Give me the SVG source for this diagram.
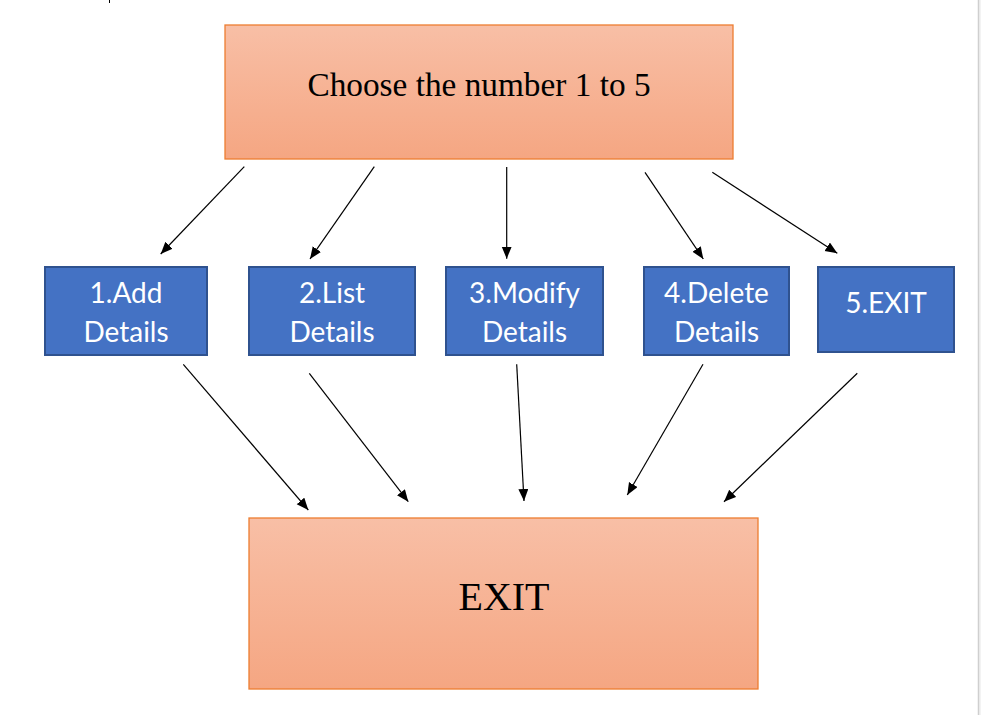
<svg xmlns="http://www.w3.org/2000/svg" width="981" height="715" viewBox="0 0 981 715">
<style>
.orange{stroke:#ED7D31;stroke-width:1.3;fill:url(#og)}
.blue{fill:#4472C4;stroke:#2F528F;stroke-width:2}
.serif{font-family:"Liberation Serif","Times New Roman",serif;fill:#000;text-anchor:middle}
.sans{font-family:Lato,"Open Sans",sans-serif;fill:#fff;font-size:28px;text-anchor:middle}
.conn line{stroke:#000;stroke-width:1.2;marker-end:url(#ah)}
</style>
<defs>
<linearGradient id="og" x1="0" y1="0" x2="0" y2="1">
<stop offset="0" stop-color="#F8BFA6"/>
<stop offset="1" stop-color="#F5A682"/>
</linearGradient>
<marker id="ah" markerUnits="userSpaceOnUse" markerWidth="13" markerHeight="11" refX="12" refY="5" orient="auto">
<path d="M0,0 L12,5 L0,10 z" fill="#000"/>
</marker>
</defs>
<rect x="0" y="0" width="981" height="715" fill="#fff"/>
<rect x="979" y="0" width="2" height="715" fill="#f3f3f3"/>
<line x1="978.5" y1="0" x2="978.5" y2="715" stroke="#cfcfcf" stroke-width="1.5"/>
<line x1="109.5" y1="0" x2="109.5" y2="3" stroke="#000" stroke-width="1"/>

<g id="start">
<rect class="orange" x="225" y="25" width="508" height="134"/>
<text class="serif" x="479" y="96" font-size="33.3">Choose the number 1 to 5</text>
</g>

<g id="add">
<rect class="blue" x="45" y="267" width="162" height="88"/>
<text class="sans" x="126" y="303">1.Add</text>
<text class="sans" x="126" y="342">Details</text>
</g>
<g id="list">
<rect class="blue" x="249" y="267" width="166" height="88"/>
<text class="sans" x="332" y="303">2.List</text>
<text class="sans" x="332" y="342">Details</text>
</g>
<g id="modify">
<rect class="blue" x="446" y="267" width="157" height="88"/>
<text class="sans" x="524.5" y="303">3.Modify</text>
<text class="sans" x="524.5" y="342">Details</text>
</g>
<g id="delete">
<rect class="blue" x="644" y="267" width="145" height="88"/>
<text class="sans" x="716.5" y="303">4.Delete</text>
<text class="sans" x="716.5" y="342">Details</text>
</g>
<g id="exit5">
<rect class="blue" x="818" y="267" width="136" height="85"/>
<text class="sans" x="886" y="313">5.EXIT</text>
</g>

<g id="exit">
<rect class="orange" x="249" y="518" width="509" height="171"/>
<text class="serif" x="504" y="610" font-size="40">EXIT</text>
</g>

<g class="conn" id="connectors">
<line x1="244.3" y1="166.7" x2="160.7" y2="254"/>
<line x1="374.3" y1="166.7" x2="310" y2="259"/>
<line x1="506.7" y1="167" x2="506.7" y2="258.7"/>
<line x1="645" y1="172.3" x2="703.3" y2="259"/>
<line x1="712.3" y1="172.3" x2="837.3" y2="253.3"/>
<line x1="183.3" y1="364.3" x2="308.3" y2="510"/>
<line x1="309.3" y1="373.3" x2="408.3" y2="501.7"/>
<line x1="516.7" y1="364.3" x2="524" y2="501"/>
<line x1="703" y1="364.3" x2="627.3" y2="495"/>
<line x1="857.3" y1="373.3" x2="724" y2="501.7"/>
</g>
</svg>
